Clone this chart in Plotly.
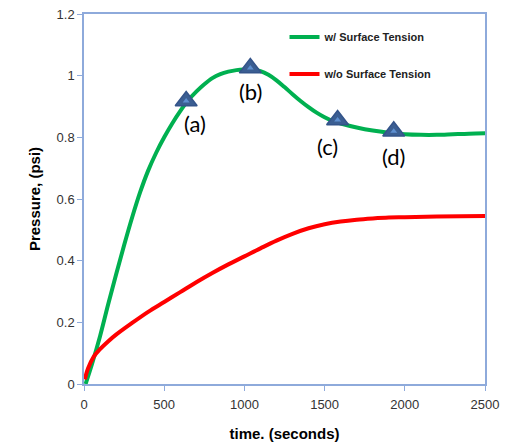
import plotly.graph_objects as go

# ---- data ----
t_green = [10, 50, 100, 150, 200, 250, 300, 350, 400, 450, 500, 550, 600, 650, 700,
           750, 800, 850, 900, 950, 1000, 1050, 1100, 1150, 1200, 1250, 1300, 1350, 1400,
           1450, 1500, 1550, 1600, 1700, 1800, 1900, 2000, 2100, 2200, 2300, 2400, 2500]
p_green = [0.0, 0.065, 0.155, 0.257, 0.355, 0.45, 0.54, 0.622, 0.692, 0.75, 0.80, 0.845,
           0.885, 0.92, 0.948, 0.972, 0.992, 1.005, 1.013, 1.018, 1.02, 1.02, 1.015, 1.003,
           0.985, 0.963, 0.94, 0.918, 0.898, 0.88, 0.865, 0.853, 0.845, 0.832, 0.822,
           0.815, 0.81, 0.808, 0.808, 0.81, 0.812, 0.813]

t_red = [5, 25, 60, 100, 150, 200, 300, 400, 500, 600, 700, 800, 900, 1000, 1100, 1200,
         1300, 1400, 1500, 1600, 1700, 1800, 1900, 2000, 2200, 2500]
p_red = [0.015, 0.05, 0.088, 0.113, 0.138, 0.16, 0.198, 0.234, 0.266, 0.298, 0.33, 0.36,
         0.388, 0.414, 0.44, 0.465, 0.487, 0.505, 0.518, 0.527, 0.533, 0.537, 0.54,
         0.541, 0.543, 0.545]

mark_t = [637, 1037, 1581, 1931]
mark_p = [0.918, 1.025, 0.856, 0.82]
mark_labels = ["(a)", "(b)", "(c)", "(d)"]
label_shift = [(9, -23), (0, -24), (-10, -26), (0, -25)]

x_ticks = [0, 500, 1000, 1500, 2000, 2500]
y_ticks = [0, 0.2, 0.4, 0.6, 0.8, 1.0, 1.2]
y_ticktext = ["0", "0.2", "0.4", "0.6", "0.8", "1", "1.2"]

axis_col = "#8eaadb"

fig = go.Figure()
fig.add_trace(go.Scatter(x=t_green, y=p_green, mode="lines", name="w/ Surface Tension",
                         line=dict(color="#00b050", width=4, shape="spline"),
                         legendgroup="g1"))
fig.add_trace(go.Scatter(x=t_red, y=p_red, mode="lines", name="w/o Surface Tension",
                         line=dict(color="#ff0000", width=4, shape="spline"),
                         legendgroup="g2"))
fig.add_trace(go.Scatter(x=mark_t, y=mark_p, mode="markers", showlegend=False,
                         marker=dict(symbol="triangle-up", size=19, color="#3b5e92",
                                     line=dict(color="#34548a", width=1.5))))
fig.add_trace(go.Scatter(x=mark_t, y=mark_p, mode="markers", showlegend=False,
                         marker=dict(symbol="triangle-up", size=6, color="#5e8fd0",
                                     line=dict(width=0))))

for t, p, lab, (dx, dy) in zip(mark_t, mark_p, mark_labels, label_shift):
    fig.add_annotation(x=t, y=p, text=lab, showarrow=False, xshift=dx, yshift=dy,
                       font=dict(family="Lato, Carlito, sans-serif", size=22, color="#000000"))

fig.update_layout(
    width=510, height=447,
    margin=dict(l=84, r=25, t=14, b=63),
    plot_bgcolor="white", paper_bgcolor="white",
    showlegend=True,
    legend=dict(x=0.5, y=0.977, xanchor="left", yanchor="top",
                bgcolor="rgba(0,0,0,0)", borderwidth=0,
                font=dict(family="Arial, Liberation Sans, sans-serif", size=11,
                          color="#222222", weight="bold"),
                itemwidth=30, tracegroupgap=18, traceorder="grouped"),
    xaxis=dict(range=[0, 2500], tickvals=x_ticks, showgrid=False, zeroline=False,
               showline=True, linecolor=axis_col, linewidth=1.5, mirror=True,
               ticks="outside", ticklen=5, tickcolor=axis_col, automargin=False,
               ticklabelstandoff=3,
               tickfont=dict(family="Arial, Liberation Sans, sans-serif", size=13, color="#333333"),
               title=dict(text="time. (seconds)", standoff=17,
                          font=dict(family="Arial, Liberation Sans, sans-serif", size=15,
                                    color="#000000", weight="bold"))),
    yaxis=dict(range=[0, 1.2], tickvals=y_ticks, ticktext=y_ticktext, showgrid=False,
               zeroline=False, showline=True, linecolor=axis_col, linewidth=1.5, mirror=True,
               ticks="outside", ticklen=5, tickcolor=axis_col, automargin=False,
               tickfont=dict(family="Arial, Liberation Sans, sans-serif", size=13, color="#333333"),
               title=dict(text="Pressure, (psi)", standoff=12,
                          font=dict(family="Arial, Liberation Sans, sans-serif", size=15,
                                    color="#000000", weight="bold"))),
)

fig.write_html("out.html")
